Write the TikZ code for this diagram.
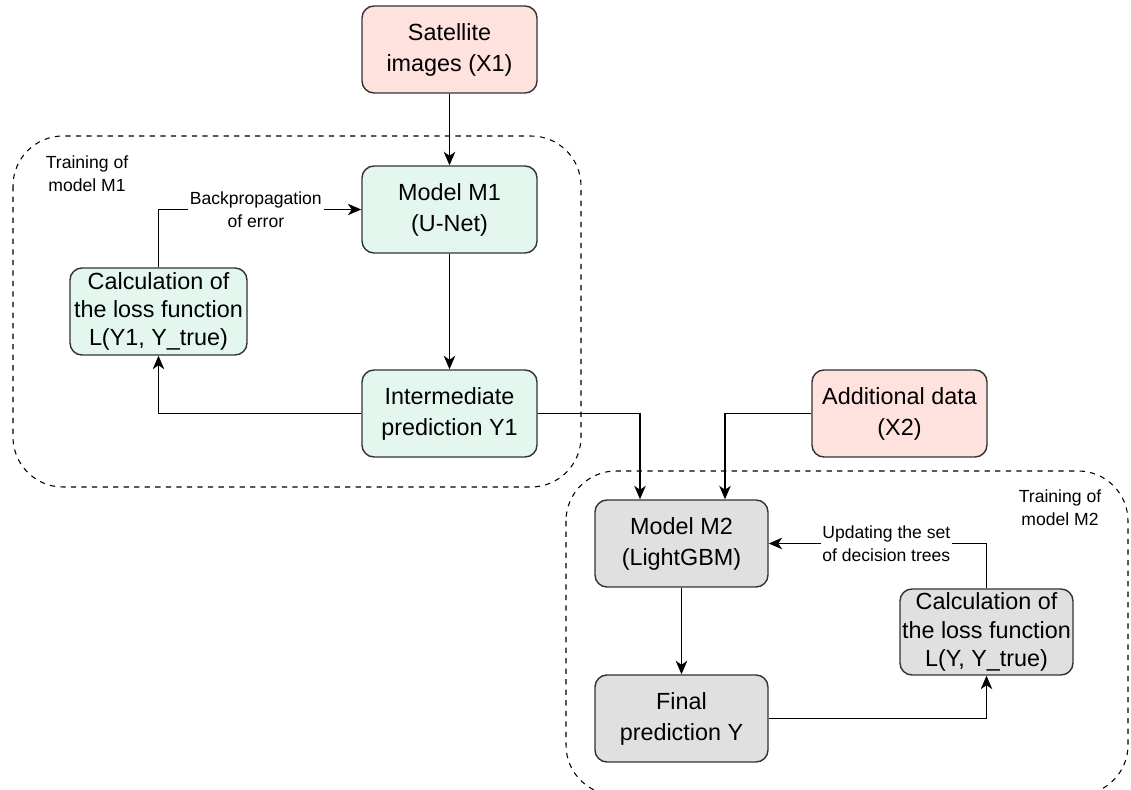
\documentclass[tikz,border=0pt]{standalone}
\usepackage{fontspec}
\setmainfont{Liberation Sans}
\usetikzlibrary{arrows.meta}
\definecolor{inpink}{HTML}{FFE1DE}
\definecolor{mintgreen}{HTML}{E3F7EE}
\definecolor{boxgray}{HTML}{E0E0E0}
\definecolor{edgegray}{HTML}{333333}
\tikzset{
  block/.style={draw=edgegray, line width=0.8pt, rounded corners=0.24cm, minimum width=3.5cm, minimum height=1.74cm, align=center, inner sep=1pt, font=\fontsize{13.3}{17.6}\selectfont},
  lossblock/.style={font=\fontsize{13.3}{16}\selectfont},
  inbox/.style={block, fill=inpink},
  unetbox/.style={block, fill=mintgreen},
  gbmbox/.style={block, fill=boxgray},
  group/.style={draw=black, dashed, line width=0.6pt, rounded corners=1cm},
  smalltext/.style={font=\fontsize{10}{13}\selectfont, align=center, inner sep=1pt},
  link/.style={draw=black, line width=0.7pt, -{Stealth[length=2.7mm,width=2.3mm,inset=0.8mm]}}
}
\begin{document}
\begin{tikzpicture}
	\useasboundingbox (0,0) rectangle (22.62,-15.8);
	% training groups
	\draw[group] (0.26,-2.72) rectangle (11.62,-9.74);
	\draw[group] (11.32,-9.42) rectangle (22.56,-15.9);
	\node[smalltext] (grp1) at (1.74,-3.48) {Training of\\model M1};
	\node[smalltext] (grp2) at (21.2,-10.16) {Training of\\model M2};
	% blocks
	\node[inbox] (sat) at (8.99,-0.99) {Satellite\\images (X1)};
	\node[unetbox] (m1) at (8.99,-4.19) {Model M1\\(U-Net)};
	\node[unetbox, lossblock, minimum width=3.54cm] (loss1) at (3.17,-6.23) {Calculation of\\the loss function\\L(Y1, Y\_true)};
	\node[unetbox] (inter) at (8.99,-8.27) {Intermediate\\prediction Y1};
	\node[inbox] (extra) at (17.99,-8.27) {Additional data\\(X2)};
	\node[gbmbox, minimum width=3.46cm] (m2) at (13.63,-10.87) {Model M2\\(LightGBM)};
	\node[gbmbox, minimum width=3.46cm] (final) at (13.63,-14.37) {Final\\prediction Y};
	\node[gbmbox, lossblock, minimum width=3.46cm, minimum height=1.72cm] (loss2) at (19.73,-12.64) {Calculation of\\the loss function\\L(Y, Y\_true)};
	% connectors
	\draw[link] (sat) -- (m1);
	\draw[link] (m1) -- (inter);
	\draw[link] (loss1.north) |- node[pos=0.74, fill=white, smalltext] (bplabel) {Backpropagation\\of error} (m1.west);
	\draw[link] (inter.west) -| (loss1.south);
	\draw[link] (inter.east) -| ([xshift=-0.83cm]m2.north);
	\draw[link] (extra.west) -| ([xshift=0.87cm]m2.north);
	\draw[link] (m2) -- (final);
	\draw[link] (final.east) -| (loss2.south);
	\draw[link] (loss2.north) |- node[pos=0.73, fill=white, smalltext] (uplabel) {Updating the set\\of decision trees} (m2.east);
\end{tikzpicture}
\end{document}
